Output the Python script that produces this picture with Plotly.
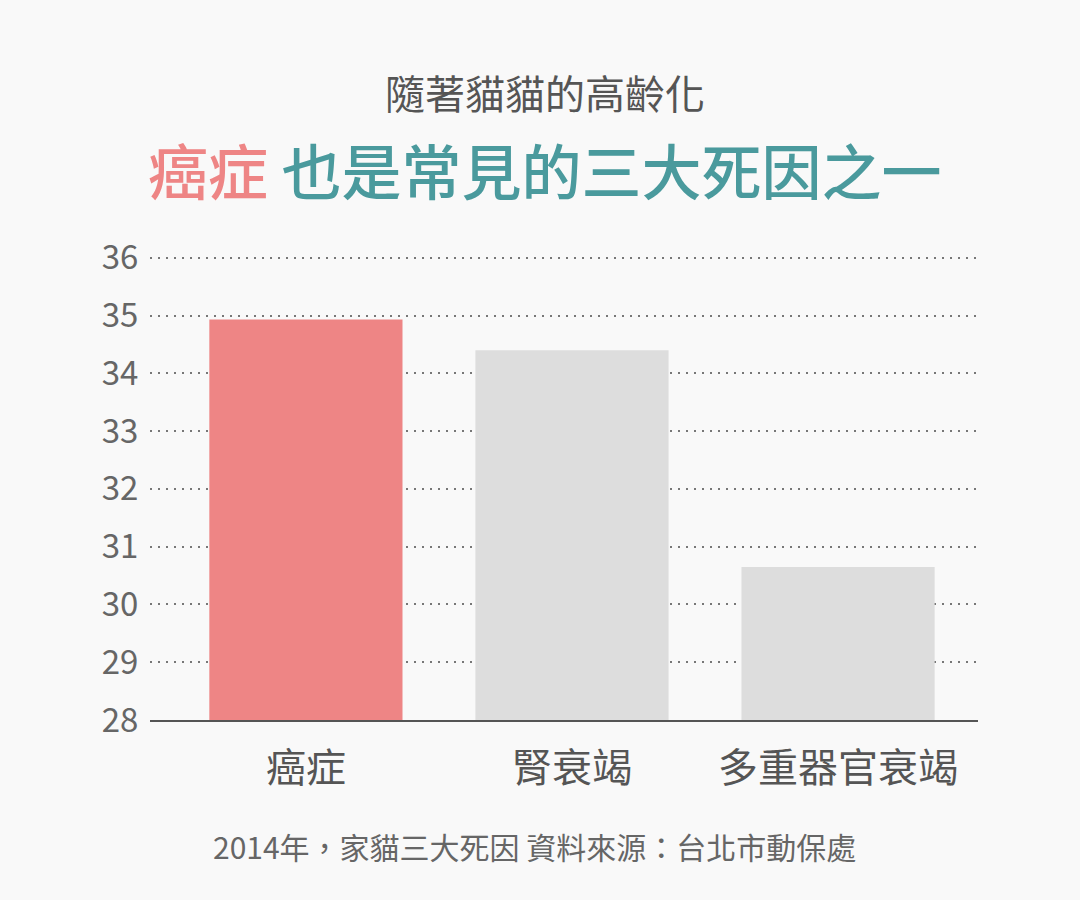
import plotly.graph_objects as go

categories = ["癌症", "腎衰竭", "多重器官衰竭"]
values = [34.93, 34.4, 30.65]
bar_colors = ["#ee8585", "#dddddd", "#dddddd"]
y_ticks = [28, 29, 30, 31, 32, 33, 34, 35, 36]

FONT = "Noto Sans CJK TC"

fig = go.Figure(
    go.Bar(
        x=categories,
        y=values,
        marker=dict(color=bar_colors, line=dict(width=0)),
        hoverinfo="skip",
    )
)

fig.update_layout(
    width=1080,
    height=900,
    margin=dict(l=150, r=102, t=252, b=180),
    paper_bgcolor="#f9f9f9",
    plot_bgcolor="#f9f9f9",
    bargap=0.274,
    showlegend=False,
    font=dict(family=FONT, color="#666666"),
)

fig.update_xaxes(
    range=[-0.586, 2.526],
    showline=True,
    linecolor="#555555",
    linewidth=2,
    showgrid=False,
    ticks="outside",
    ticklen=12,
    tickcolor="rgba(0,0,0,0)",
    tickfont=dict(family=FONT, size=40, color="#555555"),
)

fig.update_yaxes(
    range=[28, 36.1],
    tickvals=y_ticks,
    showgrid=True,
    gridcolor="#777777",
    gridwidth=2,
    griddash="2px,6px",
    zeroline=False,
    showline=False,
    ticks="outside",
    ticklen=4,
    tickcolor="rgba(0,0,0,0)",
    tickfont=dict(family=FONT, size=33, color="#666666"),
)

fig.add_annotation(
    text="隨著貓貓的高齡化",
    xref="paper", yref="paper", x=0.477, y=1.342,
    xanchor="center", yanchor="middle", showarrow=False,
    font=dict(family=FONT, size=40, color="#555555"),
)
fig.add_annotation(
    text='<span style="color:#ee8585">癌症</span> 也是常見的三大死因之一',
    xref="paper", yref="paper", x=0.477, y=1.179,
    xanchor="center", yanchor="middle", showarrow=False,
    font=dict(family=FONT, size=60, color="#4a9a9d", weight=500),
)
fig.add_annotation(
    text="2014年，家貓三大死因 資料來源：台北市動保處",
    xref="paper", yref="paper", x=0.464, y=-0.269,
    xanchor="center", yanchor="middle", showarrow=False,
    font=dict(family=FONT, size=30, color="#666666"),
)

fig.write_html(
    "out.html",
    config={"displayModeBar": False},
    post_script="document.body.style.margin='0';",
)
